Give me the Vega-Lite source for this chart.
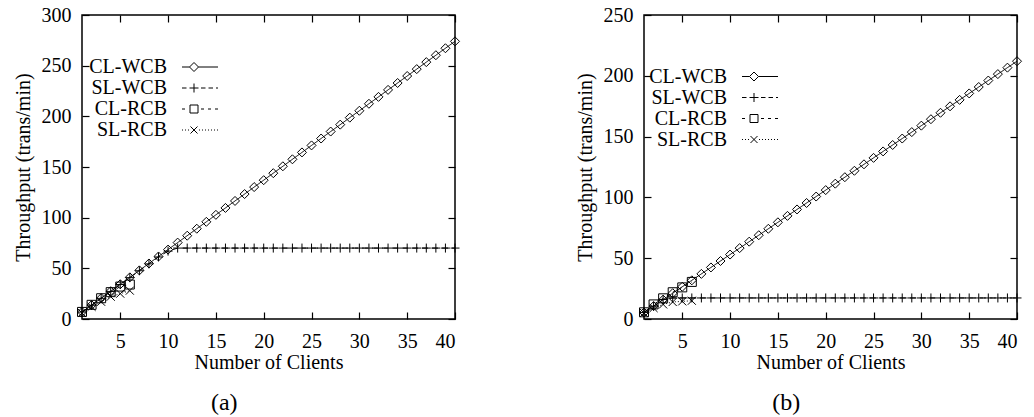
{
  "$schema": "https://vega.github.io/schema/vega-lite/v6.json",
  "padding": {"left": 12, "top": 4, "right": 0, "bottom": 0},
  "spacing": 111,
  "datasets": {
    "a": [
      {"series": "CL-WCB", "x": 1, "y": 6.9}, {"series": "CL-WCB", "x": 2, "y": 13.7}, {"series": "CL-WCB", "x": 3, "y": 20.6}, {"series": "CL-WCB", "x": 4, "y": 27.4}, {"series": "CL-WCB", "x": 5, "y": 34.3}, {"series": "CL-WCB", "x": 6, "y": 41.1}, {"series": "CL-WCB", "x": 7, "y": 48.0}, {"series": "CL-WCB", "x": 8, "y": 54.8}, {"series": "CL-WCB", "x": 9, "y": 61.7}, {"series": "CL-WCB", "x": 10, "y": 68.5},
      {"series": "CL-WCB", "x": 11, "y": 75.4}, {"series": "CL-WCB", "x": 12, "y": 82.2}, {"series": "CL-WCB", "x": 13, "y": 89.1}, {"series": "CL-WCB", "x": 14, "y": 95.9}, {"series": "CL-WCB", "x": 15, "y": 102.8}, {"series": "CL-WCB", "x": 16, "y": 109.6}, {"series": "CL-WCB", "x": 17, "y": 116.5}, {"series": "CL-WCB", "x": 18, "y": 123.3}, {"series": "CL-WCB", "x": 19, "y": 130.2}, {"series": "CL-WCB", "x": 20, "y": 137.0},
      {"series": "CL-WCB", "x": 21, "y": 143.9}, {"series": "CL-WCB", "x": 22, "y": 150.7}, {"series": "CL-WCB", "x": 23, "y": 157.6}, {"series": "CL-WCB", "x": 24, "y": 164.4}, {"series": "CL-WCB", "x": 25, "y": 171.3}, {"series": "CL-WCB", "x": 26, "y": 178.1}, {"series": "CL-WCB", "x": 27, "y": 185.0}, {"series": "CL-WCB", "x": 28, "y": 191.8}, {"series": "CL-WCB", "x": 29, "y": 198.7}, {"series": "CL-WCB", "x": 30, "y": 205.5},
      {"series": "CL-WCB", "x": 31, "y": 212.4}, {"series": "CL-WCB", "x": 32, "y": 219.2}, {"series": "CL-WCB", "x": 33, "y": 226.1}, {"series": "CL-WCB", "x": 34, "y": 232.9}, {"series": "CL-WCB", "x": 35, "y": 239.8}, {"series": "CL-WCB", "x": 36, "y": 246.6}, {"series": "CL-WCB", "x": 37, "y": 253.5}, {"series": "CL-WCB", "x": 38, "y": 260.3}, {"series": "CL-WCB", "x": 39, "y": 267.2}, {"series": "CL-WCB", "x": 40, "y": 274.0},
      {"series": "SL-WCB", "x": 1, "y": 6.8}, {"series": "SL-WCB", "x": 2, "y": 13.6}, {"series": "SL-WCB", "x": 3, "y": 20.4}, {"series": "SL-WCB", "x": 4, "y": 27.2}, {"series": "SL-WCB", "x": 5, "y": 34.0}, {"series": "SL-WCB", "x": 6, "y": 40.8}, {"series": "SL-WCB", "x": 7, "y": 47.6}, {"series": "SL-WCB", "x": 8, "y": 54.4}, {"series": "SL-WCB", "x": 9, "y": 61.2}, {"series": "SL-WCB", "x": 10, "y": 67.0},
      {"series": "SL-WCB", "x": 11, "y": 70}, {"series": "SL-WCB", "x": 12, "y": 70}, {"series": "SL-WCB", "x": 13, "y": 70}, {"series": "SL-WCB", "x": 14, "y": 70}, {"series": "SL-WCB", "x": 15, "y": 70}, {"series": "SL-WCB", "x": 16, "y": 70}, {"series": "SL-WCB", "x": 17, "y": 70}, {"series": "SL-WCB", "x": 18, "y": 70}, {"series": "SL-WCB", "x": 19, "y": 70}, {"series": "SL-WCB", "x": 20, "y": 70},
      {"series": "SL-WCB", "x": 21, "y": 70}, {"series": "SL-WCB", "x": 22, "y": 70}, {"series": "SL-WCB", "x": 23, "y": 70}, {"series": "SL-WCB", "x": 24, "y": 70}, {"series": "SL-WCB", "x": 25, "y": 70}, {"series": "SL-WCB", "x": 26, "y": 70}, {"series": "SL-WCB", "x": 27, "y": 70}, {"series": "SL-WCB", "x": 28, "y": 70}, {"series": "SL-WCB", "x": 29, "y": 70}, {"series": "SL-WCB", "x": 30, "y": 70},
      {"series": "SL-WCB", "x": 31, "y": 70}, {"series": "SL-WCB", "x": 32, "y": 70}, {"series": "SL-WCB", "x": 33, "y": 70}, {"series": "SL-WCB", "x": 34, "y": 70}, {"series": "SL-WCB", "x": 35, "y": 70}, {"series": "SL-WCB", "x": 36, "y": 70}, {"series": "SL-WCB", "x": 37, "y": 70}, {"series": "SL-WCB", "x": 38, "y": 70}, {"series": "SL-WCB", "x": 39, "y": 70}, {"series": "SL-WCB", "x": 40, "y": 70},
      {"series": "CL-RCB", "x": 1, "y": 7}, {"series": "CL-RCB", "x": 2, "y": 14}, {"series": "CL-RCB", "x": 3, "y": 20.5}, {"series": "CL-RCB", "x": 4, "y": 26.5}, {"series": "CL-RCB", "x": 5, "y": 32}, {"series": "CL-RCB", "x": 6, "y": 34},
      {"series": "SL-RCB", "x": 1, "y": 6}, {"series": "SL-RCB", "x": 2, "y": 12}, {"series": "SL-RCB", "x": 3, "y": 17}, {"series": "SL-RCB", "x": 4, "y": 22}, {"series": "SL-RCB", "x": 5, "y": 25}, {"series": "SL-RCB", "x": 6, "y": 28}
    ],
    "b": [
      {"series": "CL-WCB", "x": 1, "y": 5.3}, {"series": "CL-WCB", "x": 2, "y": 10.6}, {"series": "CL-WCB", "x": 3, "y": 15.9}, {"series": "CL-WCB", "x": 4, "y": 21.2}, {"series": "CL-WCB", "x": 5, "y": 26.5}, {"series": "CL-WCB", "x": 6, "y": 31.8}, {"series": "CL-WCB", "x": 7, "y": 37.1}, {"series": "CL-WCB", "x": 8, "y": 42.4}, {"series": "CL-WCB", "x": 9, "y": 47.7}, {"series": "CL-WCB", "x": 10, "y": 53.0},
      {"series": "CL-WCB", "x": 11, "y": 58.3}, {"series": "CL-WCB", "x": 12, "y": 63.6}, {"series": "CL-WCB", "x": 13, "y": 68.9}, {"series": "CL-WCB", "x": 14, "y": 74.2}, {"series": "CL-WCB", "x": 15, "y": 79.5}, {"series": "CL-WCB", "x": 16, "y": 84.8}, {"series": "CL-WCB", "x": 17, "y": 90.1}, {"series": "CL-WCB", "x": 18, "y": 95.4}, {"series": "CL-WCB", "x": 19, "y": 100.7}, {"series": "CL-WCB", "x": 20, "y": 106.0},
      {"series": "CL-WCB", "x": 21, "y": 111.3}, {"series": "CL-WCB", "x": 22, "y": 116.6}, {"series": "CL-WCB", "x": 23, "y": 121.9}, {"series": "CL-WCB", "x": 24, "y": 127.2}, {"series": "CL-WCB", "x": 25, "y": 132.5}, {"series": "CL-WCB", "x": 26, "y": 137.8}, {"series": "CL-WCB", "x": 27, "y": 143.1}, {"series": "CL-WCB", "x": 28, "y": 148.4}, {"series": "CL-WCB", "x": 29, "y": 153.7}, {"series": "CL-WCB", "x": 30, "y": 159.0},
      {"series": "CL-WCB", "x": 31, "y": 164.3}, {"series": "CL-WCB", "x": 32, "y": 169.6}, {"series": "CL-WCB", "x": 33, "y": 174.9}, {"series": "CL-WCB", "x": 34, "y": 180.2}, {"series": "CL-WCB", "x": 35, "y": 185.5}, {"series": "CL-WCB", "x": 36, "y": 190.8}, {"series": "CL-WCB", "x": 37, "y": 196.1}, {"series": "CL-WCB", "x": 38, "y": 201.4}, {"series": "CL-WCB", "x": 39, "y": 206.7}, {"series": "CL-WCB", "x": 40, "y": 212.0},
      {"series": "SL-WCB", "x": 1, "y": 5.3}, {"series": "SL-WCB", "x": 2, "y": 10.6}, {"series": "SL-WCB", "x": 3, "y": 16.0}, {"series": "SL-WCB", "x": 4, "y": 17.3}, {"series": "SL-WCB", "x": 5, "y": 17.3}, {"series": "SL-WCB", "x": 6, "y": 17.3}, {"series": "SL-WCB", "x": 7, "y": 17.3}, {"series": "SL-WCB", "x": 8, "y": 17.3}, {"series": "SL-WCB", "x": 9, "y": 17.3}, {"series": "SL-WCB", "x": 10, "y": 17.3},
      {"series": "SL-WCB", "x": 11, "y": 17.3}, {"series": "SL-WCB", "x": 12, "y": 17.3}, {"series": "SL-WCB", "x": 13, "y": 17.3}, {"series": "SL-WCB", "x": 14, "y": 17.3}, {"series": "SL-WCB", "x": 15, "y": 17.3}, {"series": "SL-WCB", "x": 16, "y": 17.3}, {"series": "SL-WCB", "x": 17, "y": 17.3}, {"series": "SL-WCB", "x": 18, "y": 17.3}, {"series": "SL-WCB", "x": 19, "y": 17.3}, {"series": "SL-WCB", "x": 20, "y": 17.3},
      {"series": "SL-WCB", "x": 21, "y": 17.3}, {"series": "SL-WCB", "x": 22, "y": 17.3}, {"series": "SL-WCB", "x": 23, "y": 17.3}, {"series": "SL-WCB", "x": 24, "y": 17.3}, {"series": "SL-WCB", "x": 25, "y": 17.3}, {"series": "SL-WCB", "x": 26, "y": 17.3}, {"series": "SL-WCB", "x": 27, "y": 17.3}, {"series": "SL-WCB", "x": 28, "y": 17.3}, {"series": "SL-WCB", "x": 29, "y": 17.3}, {"series": "SL-WCB", "x": 30, "y": 17.3},
      {"series": "SL-WCB", "x": 31, "y": 17.3}, {"series": "SL-WCB", "x": 32, "y": 17.3}, {"series": "SL-WCB", "x": 33, "y": 17.3}, {"series": "SL-WCB", "x": 34, "y": 17.3}, {"series": "SL-WCB", "x": 35, "y": 17.3}, {"series": "SL-WCB", "x": 36, "y": 17.3}, {"series": "SL-WCB", "x": 37, "y": 17.3}, {"series": "SL-WCB", "x": 38, "y": 17.3}, {"series": "SL-WCB", "x": 39, "y": 17.3}, {"series": "SL-WCB", "x": 40, "y": 17.3},
      {"series": "CL-RCB", "x": 1, "y": 5.5}, {"series": "CL-RCB", "x": 2, "y": 12}, {"series": "CL-RCB", "x": 3, "y": 17}, {"series": "CL-RCB", "x": 4, "y": 22}, {"series": "CL-RCB", "x": 5, "y": 26}, {"series": "CL-RCB", "x": 6, "y": 30.5},
      {"series": "SL-RCB", "x": 1, "y": 5}, {"series": "SL-RCB", "x": 2, "y": 9}, {"series": "SL-RCB", "x": 3, "y": 12}, {"series": "SL-RCB", "x": 4, "y": 14}, {"series": "SL-RCB", "x": 5, "y": 14.5}, {"series": "SL-RCB", "x": 6, "y": 15}
    ]
  },
  "hconcat": [
    {
      "width": 373, "height": 304,
      "data": {"name": "a"},
      "title": {"text": "(a)", "orient": "bottom", "frame": "bounds", "anchor": "middle", "fontSize": 24, "font": "Liberation Serif", "fontWeight": "normal", "offset": 19, "dx": -13, "color": "black"},
      "resolve": {"scale": {"shape": "independent"}, "axis": {"x": "independent", "y": "independent"}, "legend": {"shape": "independent"}},
      "layer": [
        {
          "mark": {"type": "line", "color": "black", "strokeWidth": 1},
          "encoding": {
            "x": {"field": "x", "type": "quantitative", "scale": {"domain": [1, 40], "nice": false, "zero": false}, "axis": {"orient": "bottom", "values": [5, 10, 15, 20, 25, 30, 35, 40], "title": "Number of Clients"}},
            "y": {"field": "y", "type": "quantitative", "scale": {"domain": [0, 300], "nice": false}, "axis": {"orient": "left", "values": [0, 50, 100, 150, 200, 250, 300], "title": "Throughput (trans/min)"}},
            "strokeDash": {"field": "series", "type": "nominal", "scale": {"domain": ["CL-WCB", "SL-WCB", "CL-RCB", "SL-RCB"], "range": [[1, 0], [6, 4], [3, 4], [1, 2]]}, "legend": null}
          }
        },
        {
          "mark": {"type": "point", "color": "black", "filled": false, "size": 81, "strokeWidth": 1, "opacity": 1, "clip": false},
          "encoding": {
            "x": {"field": "x", "type": "quantitative", "axis": {"orient": "top", "values": [5, 10, 15, 20, 25, 30, 35, 40], "labels": false, "title": null}},
            "y": {"field": "y", "type": "quantitative", "axis": {"orient": "right", "values": [0, 50, 100, 150, 200, 250, 300], "labels": false, "title": null}},
            "shape": {"field": "series", "type": "nominal", "scale": {"domain": ["CL-WCB", "SL-WCB", "CL-RCB", "SL-RCB"], "range": ["M0,-1L1,0L0,1L-1,0Z", "M-1,0L1,0M0,-1L0,1", "M-1,-1L1,-1L1,1L-1,1Z", "M-0.9,-0.9L0.9,0.9M-0.9,0.9L0.9,-0.9"]}, "legend": null}
          }
        },
        {
          "transform": [{"filter": "datum.x < 0"}],
          "mark": {"type": "point", "color": "black", "filled": false, "strokeWidth": 1},
          "encoding": {
            "x": {"field": "x", "type": "quantitative", "axis": null},
            "y": {"field": "y", "type": "quantitative", "axis": null},
            "shape": {"field": "series", "type": "nominal",
              "scale": {"domain": ["CL-WCB", "SL-WCB", "CL-RCB", "SL-RCB"], "range": [
                "M-1.8,0L-1.05,0M-0.15,0L1.8,0M-0.6,-0.45L-0.15,0L-0.6,0.45L-1.05,0Z",
                "M-1.8,0L-1.35,0M-1.05,0L-0.15,0M-0.6,-0.45L-0.6,0.45M0.1,0L0.55,0M0.85,0L1.3,0M1.6,0L1.8,0",
                "M-1.8,0L-1.5,0M-1.0,-0.4L-0.2,-0.4L-0.2,0.4L-1.0,0.4ZM0.1,0L0.4,0M0.8,0L1.1,0M1.5,0L1.8,0",
                "M-1.8,0L-1.7,0M-1.5,0L-1.4,0M-1.2,0L-1.1,0M-0.95,-0.35L-0.25,0.35M-0.95,0.35L-0.25,-0.35M-0.1,0L0,0M0.2,0L0.3,0M0.5,0L0.6,0M0.8,0L0.9,0M1.1,0L1.2,0M1.4,0L1.5,0M1.7,0L1.8,0"
              ]},
              "legend": {"orient": "none", "legendX": 107.5, "legendY": 41.5, "title": null, "symbolSize": 400, "rowPadding": 0, "padding": 0, "labelAlign": "right", "labelOffset": -43.5, "labelFontSize": 20, "labelFont": "Liberation Serif", "labelColor": "black", "labelLimit": 0, "symbolStrokeColor": "black", "symbolFillColor": "transparent", "symbolStrokeWidth": 1, "symbolOpacity": 1}
            }
          }
        }
      ]
    },
    {
      "width": 373, "height": 304,
      "data": {"name": "b"},
      "title": {"text": "(b)", "orient": "bottom", "frame": "bounds", "anchor": "middle", "fontSize": 24, "font": "Liberation Serif", "fontWeight": "normal", "offset": 19, "dx": -13, "color": "black"},
      "resolve": {"scale": {"shape": "independent"}, "axis": {"x": "independent", "y": "independent"}, "legend": {"shape": "independent"}},
      "layer": [
        {
          "mark": {"type": "line", "color": "black", "strokeWidth": 1},
          "encoding": {
            "x": {"field": "x", "type": "quantitative", "scale": {"domain": [1, 40], "nice": false, "zero": false}, "axis": {"orient": "bottom", "values": [5, 10, 15, 20, 25, 30, 35, 40], "title": "Number of Clients"}},
            "y": {"field": "y", "type": "quantitative", "scale": {"domain": [0, 250], "nice": false}, "axis": {"orient": "left", "values": [0, 50, 100, 150, 200, 250], "title": "Throughput (trans/min)"}},
            "strokeDash": {"field": "series", "type": "nominal", "scale": {"domain": ["CL-WCB", "SL-WCB", "CL-RCB", "SL-RCB"], "range": [[1, 0], [6, 4], [3, 4], [1, 2]]}, "legend": null}
          }
        },
        {
          "mark": {"type": "point", "color": "black", "filled": false, "size": 81, "strokeWidth": 1, "opacity": 1, "clip": false},
          "encoding": {
            "x": {"field": "x", "type": "quantitative", "axis": {"orient": "top", "values": [5, 10, 15, 20, 25, 30, 35, 40], "labels": false, "title": null}},
            "y": {"field": "y", "type": "quantitative", "axis": {"orient": "right", "values": [0, 50, 100, 150, 200, 250], "labels": false, "title": null}},
            "shape": {"field": "series", "type": "nominal", "scale": {"domain": ["CL-WCB", "SL-WCB", "CL-RCB", "SL-RCB"], "range": ["M0,-1L1,0L0,1L-1,0Z", "M-1,0L1,0M0,-1L0,1", "M-1,-1L1,-1L1,1L-1,1Z", "M-0.9,-0.9L0.9,0.9M-0.9,0.9L0.9,-0.9"]}, "legend": null}
          }
        },
        {
          "transform": [{"filter": "datum.x < 0"}],
          "mark": {"type": "point", "color": "black", "filled": false, "strokeWidth": 1},
          "encoding": {
            "x": {"field": "x", "type": "quantitative", "axis": null},
            "y": {"field": "y", "type": "quantitative", "axis": null},
            "shape": {"field": "series", "type": "nominal",
              "scale": {"domain": ["CL-WCB", "SL-WCB", "CL-RCB", "SL-RCB"], "range": [
                "M-1.8,0L-1.05,0M-0.15,0L1.8,0M-0.6,-0.45L-0.15,0L-0.6,0.45L-1.05,0Z",
                "M-1.8,0L-1.35,0M-1.05,0L-0.15,0M-0.6,-0.45L-0.6,0.45M0.1,0L0.55,0M0.85,0L1.3,0M1.6,0L1.8,0",
                "M-1.8,0L-1.5,0M-1.0,-0.4L-0.2,-0.4L-0.2,0.4L-1.0,0.4ZM0.1,0L0.4,0M0.8,0L1.1,0M1.5,0L1.8,0",
                "M-1.8,0L-1.7,0M-1.5,0L-1.4,0M-1.2,0L-1.1,0M-0.95,-0.35L-0.25,0.35M-0.95,0.35L-0.25,-0.35M-0.1,0L0,0M0.2,0L0.3,0M0.5,0L0.6,0M0.8,0L0.9,0M1.1,0L1.2,0M1.4,0L1.5,0M1.7,0L1.8,0"
              ]},
              "legend": {"orient": "none", "legendX": 105.5, "legendY": 51, "title": null, "symbolSize": 400, "rowPadding": 0, "padding": 0, "labelAlign": "right", "labelOffset": -43.5, "labelFontSize": 20, "labelFont": "Liberation Serif", "labelColor": "black", "labelLimit": 0, "symbolStrokeColor": "black", "symbolFillColor": "transparent", "symbolStrokeWidth": 1, "symbolOpacity": 1}
            }
          }
        }
      ]
    }
  ],
  "config": {
    "font": "Liberation Serif",
    "background": "white",
    "view": {"stroke": "black", "strokeWidth": 1.5},
    "axis": {"domain": false, "grid": false, "tickSize": -7, "tickWidth": 1.2, "tickColor": "black", "labelFont": "Liberation Serif", "labelFontSize": 20, "labelColor": "black", "titleFont": "Liberation Serif", "titleFontSize": 20, "titleFontWeight": "normal", "titleColor": "black"},
    "axisX": {"labelPadding": 19, "titlePadding": 1},
    "axisY": {"labelPadding": 18, "titlePadding": 8}
  }
}
